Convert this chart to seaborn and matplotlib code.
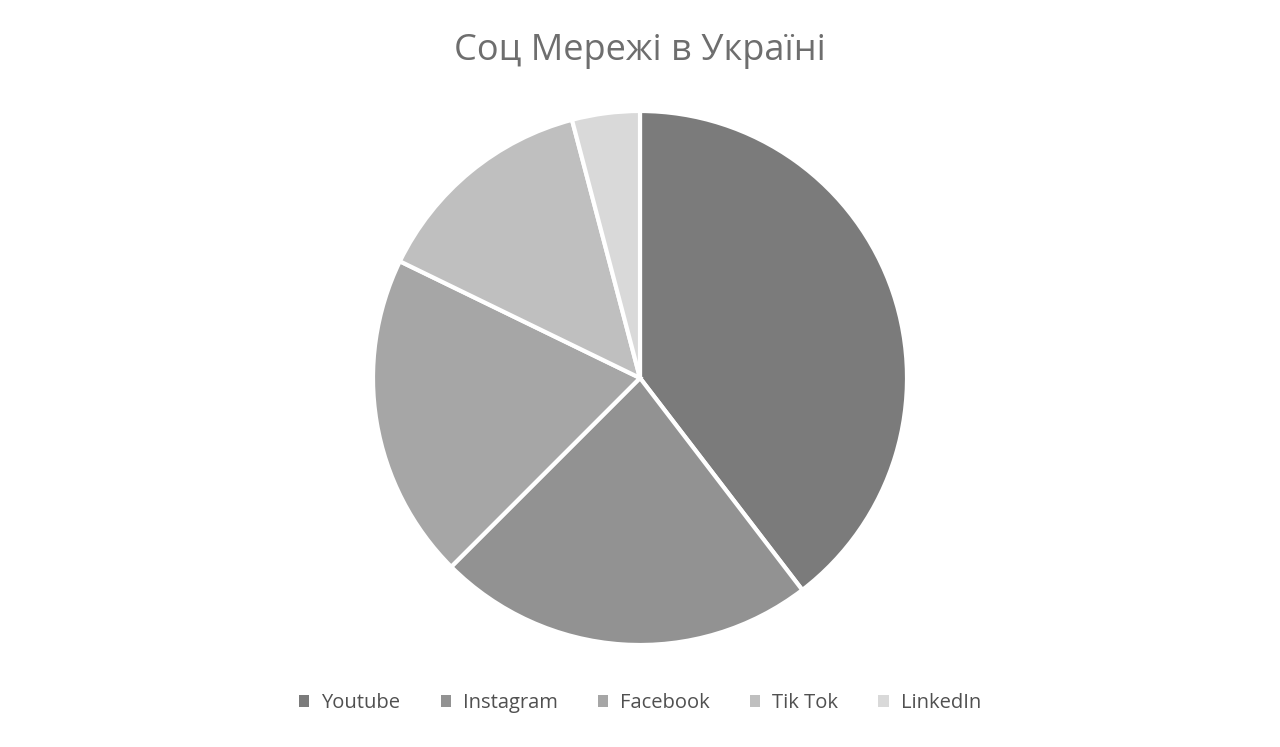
import matplotlib
matplotlib.use("Agg")
import matplotlib.pyplot as plt
import seaborn as sns
from matplotlib.patches import Patch

# data (percent share)
networks = ["Youtube", "Instagram", "Facebook", "Tik Tok", "LinkedIn"]
shares = [39.6, 22.9, 19.7, 13.7, 4.1]
greys = ["#7b7b7b", "#929292", "#a6a6a6", "#bfbfbf", "#d9d9d9"]

sns.set_theme(style="white")
plt.rcParams["font.family"] = ["Open Sans", "DejaVu Sans"]

fig = plt.figure(figsize=(12.8, 7.47), dpi=100)
ax = fig.add_axes([373 / 1280, 102 / 747, 534 / 1280, 534 / 747])

ax.pie(shares, colors=greys, startangle=90, counterclock=False,
       wedgeprops=dict(edgecolor="white", linewidth=3))
ax.set_xlim(-1.0, 1.0)
ax.set_ylim(-1.0, 1.0)
ax.set_aspect("equal")
ax.axis("off")

fig.text(0.5, 1 - 51 / 747, "Соц Мережі в Україні", ha="center", va="center",
         fontsize=26, color="#6e6e6e")

handles = [Patch(facecolor=c, edgecolor="none", label=n) for n, c in zip(networks, greys)]
fig.legend(handles=handles, loc="center", bbox_to_anchor=(0.5, 1 - 703 / 747),
           ncol=5, frameon=False, fontsize=14.5, handlelength=0.5, handleheight=0.5,
           handletextpad=0.6, columnspacing=2.0, labelcolor="#505050")

fig.savefig("out.png", dpi=100, facecolor="white")
